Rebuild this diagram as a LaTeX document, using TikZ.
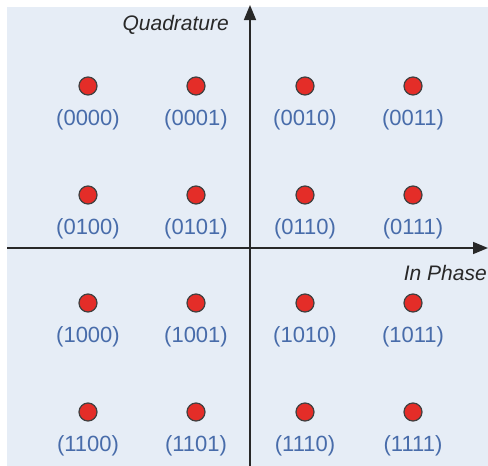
\documentclass[tikz,border=0pt]{standalone}
\usepackage{fontspec}
\setmainfont{Liberation Sans}
\usetikzlibrary{arrows.meta,positioning}
\definecolor{planebg}{RGB}{230,237,246}
\definecolor{bitblue}{RGB}{72,108,170}
\definecolor{axisgray}{RGB}{40,40,40}
\definecolor{dotred}{RGB}{228,45,40}

\begin{document}
\begin{tikzpicture}[x=1pt,y=-1pt,
    symbol/.style={circle,draw=black!75,line width=1.2pt,fill=dotred,minimum size=18pt,inner sep=0pt},
    bits/.style={text=bitblue,font=\fontsize{22}{24}\selectfont,inner sep=0pt},
    axislabel/.style={text=axisgray,font=\fontsize{21}{24}\selectfont\itshape,inner sep=0pt},
    axis/.style={axisgray,line width=1.6pt,-{Triangle[length=15pt,width=12pt]}}]
    \useasboundingbox (0,0) rectangle (488,466);
    \fill[planebg] (7,7) rectangle (488,466);

    \coordinate (ileft) at (7,248);
    \coordinate (iright) at (488,248);
    \coordinate (qbot) at (250,466);
    \coordinate (qtop) at (250,5);
    \draw[axis] (ileft) -- (iright);
    \draw[axis] (qbot) -- (qtop);
    \node[axislabel,anchor=east] (qlabel) at (229,25) {Quadrature};
    \node[axislabel,anchor=east] (ilabel) at (487,273) {In Phase};

    % 16 symbols, row bits then column bits
    \foreach \row/\y/\hi in {0/86/00,1/195/01,2/303/10,3/412/11}
      \foreach \col/\x/\lo in {0/88/00,1/196/01,2/305/10,3/413/11} {
        \node[symbol] (d-\row-\col) at (\x,\y) {};
        \node[bits,below=14pt of d-\row-\col] (l-\row-\col) {(\hi\lo)};
      }
  \end{tikzpicture}
\end{document}
